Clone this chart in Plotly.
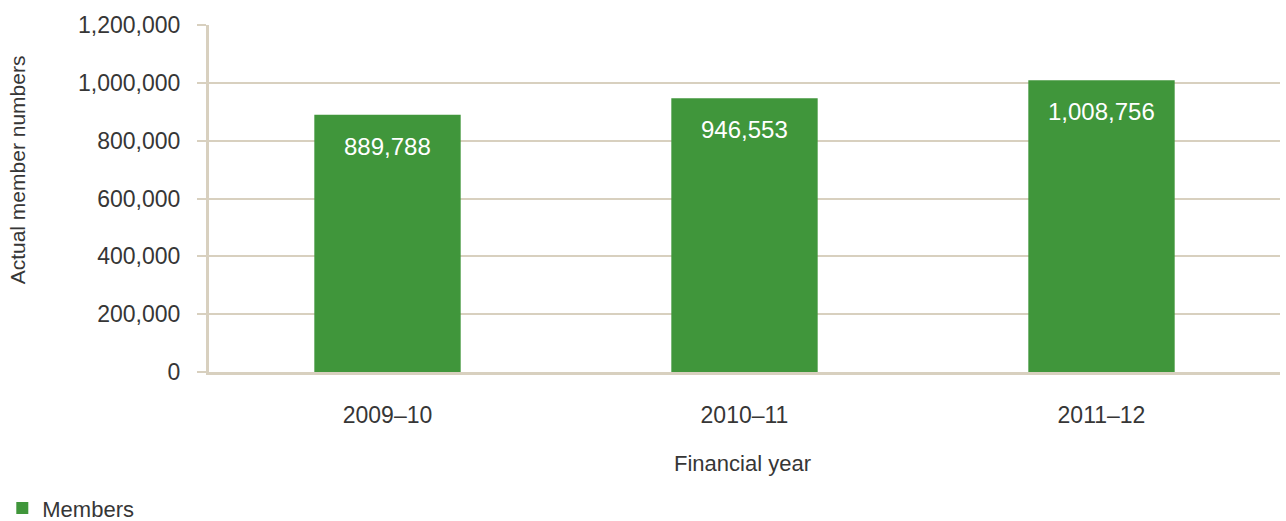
import plotly.graph_objects as go

years = ["2009–10", "2010–11", "2011–12"]
members = [889788, 946553, 1008756]
y_ticks = [0, 200000, 400000, 600000, 800000, 1000000, 1200000]

GREEN = "#40963b"
GRID = "#d8d0bf"
TEXT = "#363636"
FONT = "Liberation Sans"

fig = go.Figure()
fig.add_trace(go.Bar(
    x=years, y=members, name="Members",
    marker=dict(color=GREEN, line=dict(width=0)),
    width=0.41,
))

# value labels sitting just inside the top of each bar
for yr, v in zip(years, members):
    fig.add_annotation(
        x=yr, y=v, text=f"{v:,}", showarrow=False,
        yanchor="top", yshift=-16,
        font=dict(family=FONT, size=24, color="white"),
    )

# axis titles
fig.add_annotation(
    xref="paper", yref="paper", x=-0.179, y=0.582,
    text="Actual member numbers", textangle=-90, showarrow=False,
    xanchor="center", yanchor="middle",
    font=dict(family=FONT, size=21, color=TEXT),
)
fig.add_annotation(
    xref="paper", yref="paper", x=0.498, y=-0.265,
    text="Financial year", showarrow=False,
    xanchor="center", yanchor="middle",
    font=dict(family=FONT, size=22, color=TEXT),
)

fig.update_layout(
    width=1286, height=521,
    margin=dict(l=209, r=6, t=25, b=149, autoexpand=False),
    paper_bgcolor="white", plot_bgcolor="white",
    font=dict(family=FONT, size=23, color=TEXT),
    showlegend=True,
    legend=dict(
        orientation="h", x=-0.193, y=-0.332, xanchor="left", yanchor="top",
        font=dict(family=FONT, size=22, color=TEXT),
        itemsizing="constant",
    ),
)
fig.update_xaxes(
    showline=True, linecolor=GRID, linewidth=3,
    ticks="outside", ticklen=20, tickcolor="rgba(0,0,0,0)",
    tickfont=dict(family=FONT, size=23, color=TEXT),
)
fig.update_yaxes(
    range=[0, 1200000], tickvals=y_ticks,
    ticktext=[f"{t:,}" for t in y_ticks],
    showgrid=True, gridcolor=GRID, gridwidth=2,
    showline=True, linecolor=GRID, linewidth=3,
    ticks="outside", ticklen=9, tickcolor=GRID, tickwidth=2,
    ticklabelstandoff=12,
    tickfont=dict(family=FONT, size=23, color=TEXT),
    zeroline=False,
)

fig.write_html("out.html")
